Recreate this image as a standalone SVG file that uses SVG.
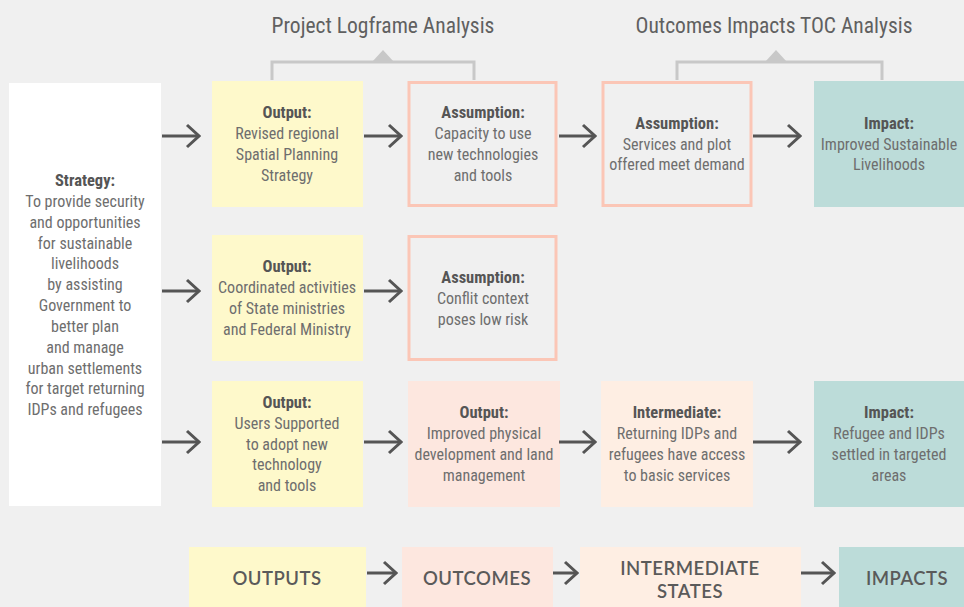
<svg xmlns="http://www.w3.org/2000/svg" width="964" height="607" viewBox="0 0 964 607">
<defs>
<style>
.t{font-family:"Roboto Condensed","Liberation Sans Narrow","DejaVu Sans Condensed",Roboto,sans-serif;font-stretch:condensed;font-size:16px;fill:#6e6e6e;text-anchor:middle}
.b{font-weight:bold;fill:#555;font-size:16.5px}
.h{font-family:"Roboto Condensed","Liberation Sans Narrow",Roboto,sans-serif;font-stretch:condensed;font-size:21.5px;fill:#606060;text-anchor:middle}
.lg{font-family:Lato,"Open Sans",sans-serif;font-size:18.5px;font-weight:600;fill:#5a5a5a;text-anchor:middle;letter-spacing:0.5px}
.yel{fill:#fef9cb}
.pk{fill:#fde7df}
.pc{fill:#feeee3}
.tl{fill:#bcdcd9}
.asm{fill:none;stroke:#fbc6b6;stroke-width:3}
.ar{stroke:#555;stroke-width:3;fill:none}
.br{stroke:#c8c8c8;stroke-width:3;fill:none}
</style>
<marker id="ah" markerUnits="userSpaceOnUse" markerWidth="16" markerHeight="26" viewBox="0 0 16 26" refX="14" refY="13" orient="auto">
<path d="M2,2 L14,13 L2,24" fill="none" stroke="#555" stroke-width="3"/>
</marker>
</defs>
<rect width="964" height="607" fill="#f0f0f0"/>

<g id="titles">
<text class="h" x="383" y="33">Project Logframe Analysis</text>
<text class="h" x="774" y="33">Outcomes Impacts TOC Analysis</text>
<path class="br" d="M272,80 V62 H474 V80"/>
<polygon points="372,62 383,50 394,62" fill="#c8c8c8"/>
<path class="br" d="M677,80 V62 H882 V80"/>
<polygon points="765,62 776,50 787,62" fill="#c8c8c8"/>
</g>

<g id="strategy">
<rect x="9" y="83" width="152" height="423" fill="#fff"/>
<text class="t b" x="85" y="186">Strategy:</text>
<text class="t" x="85" y="207">To provide security</text>
<text class="t" x="85" y="228">and opportunities</text>
<text class="t" x="85" y="249">for sustainable</text>
<text class="t" x="85" y="269">livelihoods</text>
<text class="t" x="85" y="290">by assisting</text>
<text class="t" x="85" y="311">Government to</text>
<text class="t" x="85" y="332">better plan</text>
<text class="t" x="85" y="353">and manage</text>
<text class="t" x="85" y="374">urban settlements</text>
<text class="t" x="85" y="394">for target returning</text>
<text class="t" x="85" y="415">IDPs and refugees</text>
</g>

<g id="output1">
<rect class="yel" x="212" y="81" width="151" height="126"/>
<text class="t b" x="287" y="118">Output:</text>
<text class="t" x="287" y="139">Revised regional</text>
<text class="t" x="287" y="160">Spatial Planning</text>
<text class="t" x="287" y="181">Strategy</text>
</g>
<g id="assumption1">
<rect class="asm" x="409" y="82.5" width="147" height="123"/>
<text class="t b" x="483" y="118">Assumption:</text>
<text class="t" x="483" y="139">Capacity to use</text>
<text class="t" x="483" y="160">new technologies</text>
<text class="t" x="483" y="181">and tools</text>
</g>
<g id="assumption2">
<rect class="asm" x="603" y="82.5" width="148" height="123"/>
<text class="t b" x="677" y="129">Assumption:</text>
<text class="t" x="677" y="150">Services and plot</text>
<text class="t" x="677" y="170">offered meet demand</text>
</g>
<g id="impact1">
<rect class="tl" x="814" y="81" width="150" height="126"/>
<text class="t b" x="889" y="129">Impact:</text>
<text class="t" x="889" y="150">Improved Sustainable</text>
<text class="t" x="889" y="170">Livelihoods</text>
</g>

<g id="output2">
<rect class="yel" x="212" y="235" width="151" height="126"/>
<text class="t b" x="287" y="272">Output:</text>
<text class="t" x="287" y="293">Coordinated activities</text>
<text class="t" x="287" y="314">of State ministries</text>
<text class="t" x="287" y="335">and Federal Ministry</text>
</g>
<g id="assumption3">
<rect class="asm" x="409" y="236.5" width="147" height="123"/>
<text class="t b" x="483" y="283">Assumption:</text>
<text class="t" x="483" y="304">Conflit context</text>
<text class="t" x="483" y="325">poses low risk</text>
</g>

<g id="output3">
<rect class="yel" x="212" y="381" width="151" height="126"/>
<text class="t b" x="287" y="408">Output:</text>
<text class="t" x="287" y="429">Users Supported</text>
<text class="t" x="287" y="450">to adopt new</text>
<text class="t" x="287" y="470">technology</text>
<text class="t" x="287" y="491">and tools</text>
</g>
<g id="outcome">
<rect class="pk" x="408" y="381" width="152" height="126"/>
<text class="t b" x="484" y="418">Output:</text>
<text class="t" x="484" y="439">Improved physical</text>
<text class="t" x="484" y="460">development and land</text>
<text class="t" x="484" y="481">management</text>
</g>
<g id="intermediate">
<rect class="pc" x="601" y="381" width="152" height="126"/>
<text class="t b" x="677" y="418">Intermediate:</text>
<text class="t" x="677" y="439">Returning IDPs and</text>
<text class="t" x="677" y="460">refugees have access</text>
<text class="t" x="677" y="481">to basic services</text>
</g>
<g id="impact2">
<rect class="tl" x="814" y="381" width="150" height="126"/>
<text class="t b" x="889" y="418">Impact:</text>
<text class="t" x="889" y="439">Refugee and IDPs</text>
<text class="t" x="889" y="460">settled in targeted</text>
<text class="t" x="889" y="481">areas</text>
</g>

<g id="legend-outputs">
<rect class="yel" x="189" y="547" width="177" height="60"/>
<text class="lg" x="277" y="585">OUTPUTS</text>
</g>
<g id="legend-outcomes">
<rect class="pk" x="402" y="547" width="151" height="60"/>
<text class="lg" x="477" y="585">OUTCOMES</text>
</g>
<g id="legend-intermediate">
<rect class="pc" x="580" y="547" width="221" height="60"/>
<text class="lg" x="690" y="575">INTERMEDIATE</text>
<text class="lg" x="690" y="598">STATES</text>
</g>
<g id="legend-impacts">
<rect class="tl" x="839" y="547" width="125" height="60"/>
<text class="lg" x="907" y="585">IMPACTS</text>
</g>

<g id="connectors">
<line class="ar" x1="162" y1="136" x2="199" y2="136" marker-end="url(#ah)"/>
<line class="ar" x1="364" y1="136" x2="401" y2="136" marker-end="url(#ah)"/>
<line class="ar" x1="559" y1="136" x2="595" y2="136" marker-end="url(#ah)"/>
<line class="ar" x1="753" y1="136" x2="800" y2="136" marker-end="url(#ah)"/>
<line class="ar" x1="162" y1="291" x2="199" y2="291" marker-end="url(#ah)"/>
<line class="ar" x1="364" y1="291" x2="401" y2="291" marker-end="url(#ah)"/>
<line class="ar" x1="162" y1="442" x2="199" y2="442" marker-end="url(#ah)"/>
<line class="ar" x1="364" y1="442" x2="401" y2="442" marker-end="url(#ah)"/>
<line class="ar" x1="559" y1="442" x2="595" y2="442" marker-end="url(#ah)"/>
<line class="ar" x1="753" y1="442" x2="800" y2="442" marker-end="url(#ah)"/>
<line class="ar" x1="367" y1="573" x2="396" y2="573" marker-end="url(#ah)"/>
<line class="ar" x1="553" y1="573" x2="577" y2="573" marker-end="url(#ah)"/>
<line class="ar" x1="801" y1="573" x2="834" y2="573" marker-end="url(#ah)"/>
</g>
</svg>
